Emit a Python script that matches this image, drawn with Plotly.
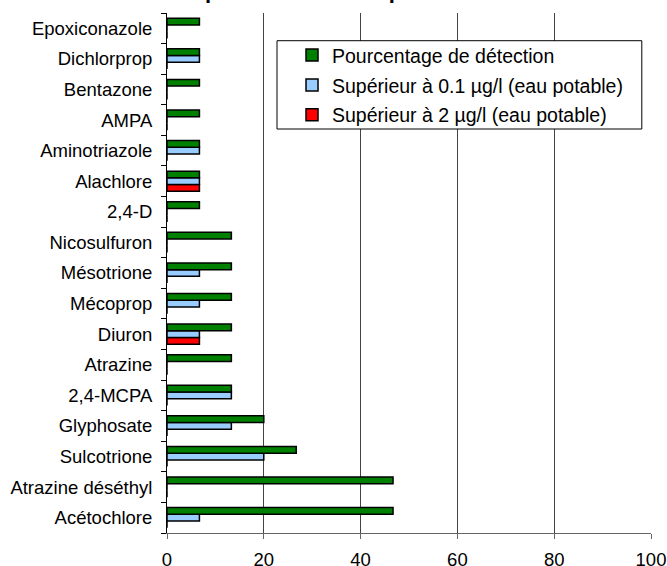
import plotly.graph_objects as go

categories = ["Acétochlore", "Atrazine déséthyl", "Sulcotrione", "Glyphosate", "2,4-MCPA",
              "Atrazine", "Diuron", "Mécoprop", "Mésotrione", "Nicosulfuron", "2,4-D",
              "Alachlore", "Aminotriazole", "AMPA", "Bentazone", "Dichlorprop", "Epoxiconazole"]
detection = [46.7, 46.7, 26.7, 20, 13.3, 13.3, 13.3, 13.3, 13.3, 13.3, 6.7, 6.7, 6.7, 6.7, 6.7, 6.7, 6.7]
sup_01 = [6.7, 0, 20, 13.3, 13.3, 0, 6.7, 6.7, 6.7, 0, 0, 6.7, 6.7, 0, 0, 6.7, 0]
sup_2 = [0, 0, 0, 0, 0, 0, 6.7, 0, 0, 0, 0, 6.7, 0, 0, 0, 0, 0]
x_ticks = [0, 20, 40, 60, 80, 100]

names = ["Pourcentage de détection", "Supérieur à 0.1 µg/l (eau potable)", "Supérieur à 2 µg/l (eau potable)"]
colors = ["#008000", "#99CCFF", "#FF0000"]
series = [detection, sup_01, sup_2]

FONT = "Liberation Sans, Arial"

fig = go.Figure()
for i, (name, col, vals) in reversed(list(enumerate(zip(names, colors, series)))):
    fig.add_trace(go.Bar(
        y=categories, x=vals, orientation="h", name=name, legendgroup=f"g{i}",
        legendrank=i + 1,
        marker=dict(color=col, line=dict(color="black", width=1.5)),
    ))

fig.update_layout(
    width=667, height=566,
    margin=dict(l=167, r=16, t=13, b=33),
    barmode="group", bargap=0.34, bargroupgap=0,
    plot_bgcolor="white", paper_bgcolor="white",
    font=dict(family=FONT, size=18.5, color="black"),
    showlegend=True,
    legend=dict(traceorder="grouped", x=0.2273, y=0.956, xanchor="left", yanchor="top",
                borderwidth=0, bgcolor="rgba(0,0,0,0)", tracegroupgap=1.5,
                font=dict(size=19.5), itemwidth=30, indentation=15),
    shapes=[dict(type="rect", xref="paper", yref="paper", x0=0.2273, x1=0.981, y0=0.7769, y1=0.9467,
                 line=dict(color="black", width=1), fillcolor="white", layer="above")],
    xaxis=dict(range=[0, 100], tickvals=x_ticks, showgrid=True, gridcolor="#444444", gridwidth=1,
               showline=True, linecolor="#666666", linewidth=1, ticks="outside", ticklen=5,
               tickcolor="#666666", zeroline=False, ticklabelstandoff=5, automargin=False),
    yaxis=dict(categoryorder="array", categoryarray=categories, tickson="boundaries",
               ticks="outside", ticklen=5, tickcolor="black", showline=True, linecolor="black",
               linewidth=1, showgrid=False, ticklabelstandoff=10, automargin=False),
    annotations=[dict(text="<b>production d'eau potable</b>", xref="paper", yref="paper",
                      x=0.349, y=1.0, xanchor="center", yanchor="bottom", yshift=8,
                      showarrow=False, font=dict(size=22, family=FONT))],
)

fig.write_html("out.html", config={"displayModeBar": False},
               post_script="document.body.style.margin='0';")
